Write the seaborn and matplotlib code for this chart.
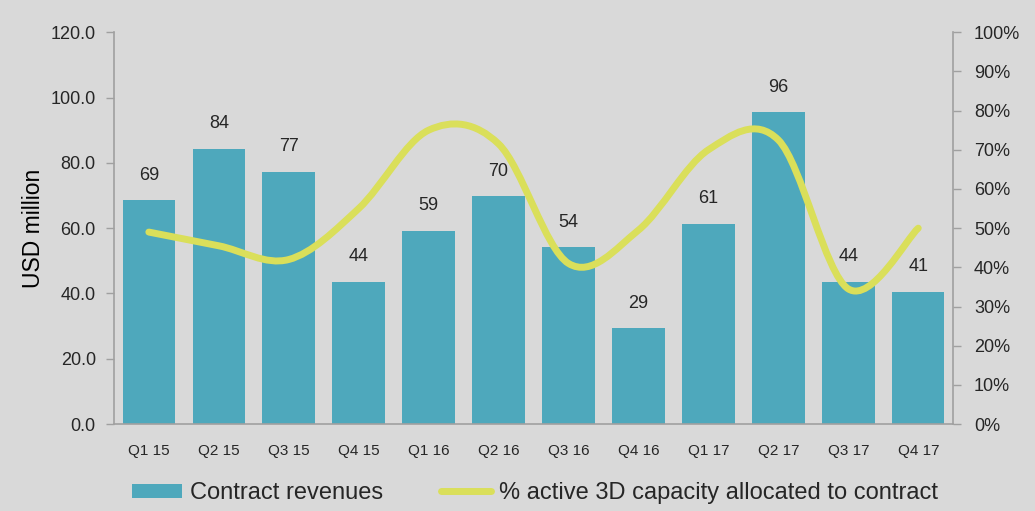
import numpy as np
import pandas as pd
import matplotlib
matplotlib.use("Agg")
import matplotlib.pyplot as plt
from matplotlib.path import Path
from matplotlib.patches import PathPatch
from matplotlib.lines import Line2D
from matplotlib.patches import Patch
import seaborn as sns

# --- DATOS ---
quarters = ["Q1 15", "Q2 15", "Q3 15", "Q4 15", "Q1 16", "Q2 16",
            "Q3 16", "Q4 16", "Q1 17", "Q2 17", "Q3 17", "Q4 17"]
revenues = [68.6, 84.3, 77.3, 43.6, 59.2, 69.8, 54.2, 29.4, 61.4, 95.6, 43.6, 40.6]
capacity_pct = [49, 45.5, 42, 55, 75, 71.5, 41, 49.5, 70, 72.5, 34.5, 50]

BAR_COLOR = "#4EA8BC"
LINE_COLOR = "#DADF5A"
BG = "#D9D9D9"
SPINE = "#A0A0A0"
TEXT = "#262626"

sns.set_style("white")
plt.rcParams["font.family"] = ["Liberation Sans", "DejaVu Sans"]

df = pd.DataFrame({"quarter": quarters, "revenue": revenues, "pct": capacity_pct})

fig = plt.figure(figsize=(10.35, 5.11), dpi=100, facecolor=BG)
ax = fig.add_axes([0.110, 0.170, 0.811, 0.767])
ax.set_facecolor(BG)

sns.barplot(data=df, x="quarter", y="revenue", color=BAR_COLOR, saturation=1,
            width=0.75, linewidth=0, edgecolor="none", ax=ax)
ax.set_ylim(0, 120)
ax.set_yticks(np.arange(0, 121, 20))
ax.set_yticklabels([f"{v:.1f}" for v in np.arange(0, 121, 20)], fontsize=13, color=TEXT)
ax.set_xlabel("")
ax.set_ylabel("USD million", fontsize=16.5, color="black", labelpad=4)
ax.tick_params(axis="x", length=0, labelsize=11, colors=TEXT, pad=14)
ax.tick_params(axis="y", length=6, width=1, color=SPINE, pad=7)

# etiquetas de valor sobre las barras
for i, v in enumerate(revenues):
    ax.text(i, v + 5, f"{round(v):d}", ha="center", va="bottom", fontsize=13, color=TEXT)

for side in ["top", "right"]:
    ax.spines[side].set_visible(False)
for side in ["left", "bottom"]:
    ax.spines[side].set_color(SPINE)
    ax.spines[side].set_linewidth(1.2)

# --- EJE SECUNDARIO: linea suavizada ---
ax2 = ax.twinx()
ax2.set_ylim(0, 1.0)
ax2.set_yticks(np.arange(0, 1.01, 0.1))
ax2.set_yticklabels([f"{int(round(v*100))}%" for v in np.arange(0, 1.01, 0.1)],
                    fontsize=13, color=TEXT)
ax2.tick_params(axis="y", length=6, width=1, color=SPINE, pad=9)
for side in ["top", "left", "bottom"]:
    ax2.spines[side].set_visible(False)
ax2.spines["right"].set_color(SPINE)
ax2.spines["right"].set_linewidth(1.2)

# curva suavizada tipo Excel (bezier catmull-rom entre los puntos)
xs = np.arange(len(capacity_pct), dtype=float)
ys = np.array(capacity_pct) / 100.0
pts = np.column_stack([xs, ys])
padded = np.vstack([pts[0], pts, pts[-1]])
verts = [tuple(pts[0])]
codes = [Path.MOVETO]
for i in range(len(pts) - 1):
    p0, p1, p2, p3 = padded[i], padded[i + 1], padded[i + 2], padded[i + 3]
    c1 = p1 + (p2 - p0) / 6.0
    c2 = p2 - (p3 - p1) / 6.0
    verts += [tuple(c1), tuple(c2), tuple(p2)]
    codes += [Path.CURVE4, Path.CURVE4, Path.CURVE4]
curve = PathPatch(Path(verts, codes), facecolor="none", edgecolor=LINE_COLOR,
                  linewidth=5, capstyle="round", joinstyle="round")
ax2.add_patch(curve)
ax2.set_xlim(ax.get_xlim())

# --- LEYENDA ---
handles = [Patch(facecolor=BAR_COLOR, edgecolor="none"),
           Line2D([0], [0], color=LINE_COLOR, lw=5)]
labels = ["Contract revenues", "% active 3D capacity allocated to contract"]
fig.legend(handles, labels, loc="lower center", bbox_to_anchor=(0.517, -0.028),
           ncol=2, frameon=False, fontsize=17, columnspacing=2.45,
           handlelength=2.1, handleheight=0.55, handletextpad=0.35)

fig.savefig("out.png", dpi=100, facecolor=BG)
